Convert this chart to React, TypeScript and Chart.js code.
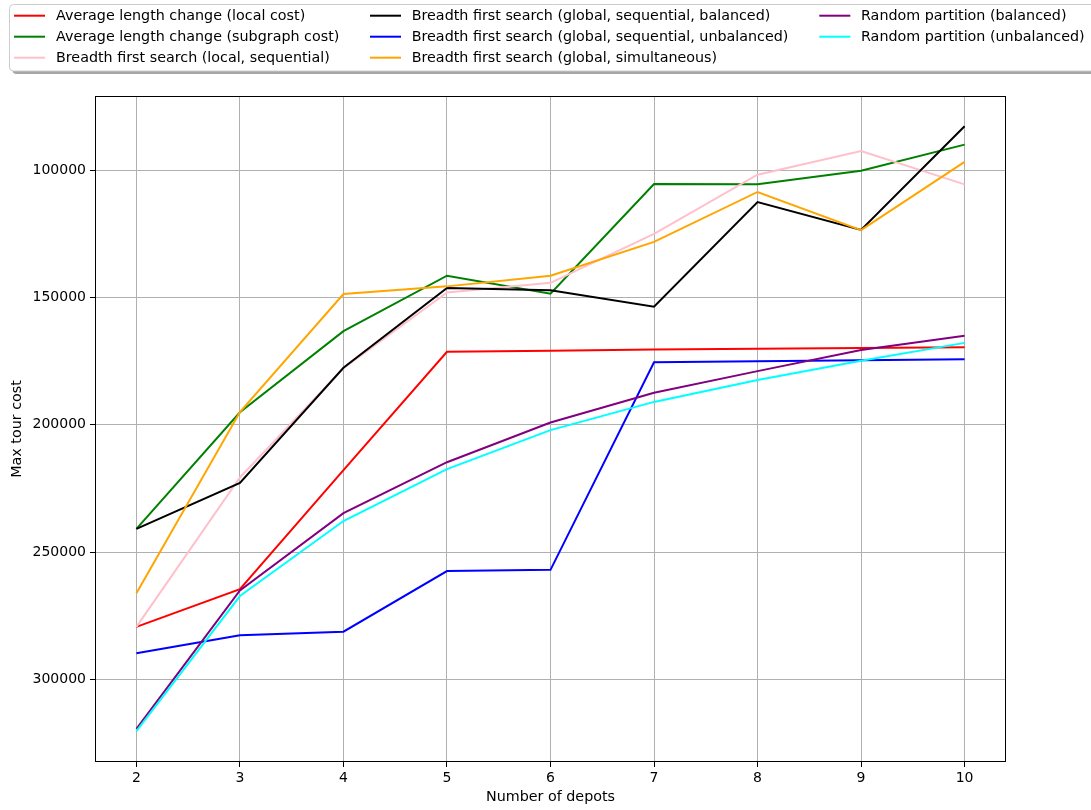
import React, { useEffect, useRef } from "react";
import { Chart, registerables } from "chart.js";

Chart.register(...registerables);

const depots = [2, 3, 4, 5, 6, 7, 8, 9, 10];

const seriesNames = [
  "Average length change (local cost)",
  "Average length change (subgraph cost)",
  "Breadth first search (local, sequential)",
  "Breadth first search (global, sequential, balanced)",
  "Breadth first search (global, sequential, unbalanced)",
  "Breadth first search (global, simultaneous)",
  "Random partition (balanced)",
  "Random partition (unbalanced)",
];

const seriesColors = ["#ff0000", "#008000", "#ffc0cb", "#000000", "#0000ff", "#ffa500", "#800080", "#00ffff"];

const avgLocal = [279400, 264600, 217800, 171300, 170900, 170400, 170100, 169800, 169500];
const avgSubgraph = [240900, 195100, 163200, 141400, 148500, 105400, 105500, 100200, 89900];
const bfsLocalSeq = [279400, 220700, 177800, 148000, 144200, 125000, 101700, 92400, 105500];
const bfsGlobalSeqBal = [240900, 222800, 177600, 146200, 147100, 153600, 112500, 123400, 82700];
const bfsGlobalSeqUnbal = [289800, 282700, 281300, 257500, 257000, 175400, 175000, 174600, 174200];
const bfsGlobalSim = [266200, 195000, 148600, 145600, 141400, 128100, 108500, 123500, 96700];
const randomBal = [319500, 265100, 234700, 214700, 199100, 187400, 178900, 170600, 165000];
const randomUnbal = [320400, 267300, 237800, 217400, 202100, 191000, 182400, 174800, 167800];

const seriesValues = [avgLocal, avgSubgraph, bfsLocalSeq, bfsGlobalSeqBal, bfsGlobalSeqUnbal, bfsGlobalSim, randomBal, randomUnbal];

const yTicks = [100000, 150000, 200000, 250000, 300000];
const xTicks = [2, 3, 4, 5, 6, 7, 8, 9, 10];

const FONT = "'DejaVu Sans', sans-serif";
const FS_TICK = 14;
const FS_TEXT = 14.3;

function roundRectPath(ctx: CanvasRenderingContext2D, x: number, y: number, w: number, h: number, r: number) {
  ctx.beginPath();
  ctx.moveTo(x + r, y);
  ctx.lineTo(x + w - r, y);
  ctx.quadraticCurveTo(x + w, y, x + w, y + r);
  ctx.lineTo(x + w, y + h - r);
  ctx.quadraticCurveTo(x + w, y + h, x + w - r, y + h);
  ctx.lineTo(x + r, y + h);
  ctx.quadraticCurveTo(x, y + h, x, y + h - r);
  ctx.lineTo(x, y + r);
  ctx.quadraticCurveTo(x, y, x + r, y);
  ctx.closePath();
}

const frameAndLegend = {
  id: "frameAndLegend",
  afterDatasetsDraw(chart: any) {
    const { ctx, chartArea } = chart;
    ctx.save();
    ctx.strokeStyle = "#000";
    ctx.lineWidth = 1;
    ctx.strokeRect(chartArea.left + 0.5, chartArea.top + 0.5, chartArea.right - chartArea.left - 1, chartArea.bottom - chartArea.top - 1);
    ctx.restore();
  },
  afterDraw(chart: any) {
    const ctx: CanvasRenderingContext2D = chart.ctx;
    ctx.save();
    const x = 9.5, y = 4.5, w = 1100, h = 66.5;
    ctx.fillStyle = "rgba(77,77,77,0.5)";
    roundRectPath(ctx, x + 3, y + 3, w, h, 4);
    ctx.fill();
    ctx.fillStyle = "#ffffff";
    roundRectPath(ctx, x, y, w, h, 4);
    ctx.fill();
    ctx.strokeStyle = "#cccccc";
    ctx.lineWidth = 1;
    ctx.stroke();
    const cols = [{ hx: 14, tx: 56 }, { hx: 370, tx: 411.7 }, { hx: 819.3, tx: 861 }];
    const rows = [16.2, 37.2, 58.2];
    ctx.font = `${FS_TEXT}px ${FONT}`;
    ctx.textBaseline = "middle";
    ctx.textAlign = "left";
    seriesNames.forEach((name, i) => {
      const c = cols[Math.floor(i / 3)];
      const ry = rows[i % 3];
      ctx.strokeStyle = seriesColors[i];
      ctx.lineWidth = 2;
      ctx.beginPath();
      ctx.moveTo(c.hx, ry - 0.5);
      ctx.lineTo(c.hx + 31, ry - 0.5);
      ctx.stroke();
      ctx.fillStyle = "#000";
      ctx.fillText(name, c.tx, ry);
    });
    ctx.restore();
  },
};

export default function App() {
  const canvasRef = useRef<HTMLCanvasElement | null>(null);

  useEffect(() => {
    const canvas = canvasRef.current;
    if (!canvas) return;
    const datasets = seriesNames.map((name, i) => ({
      label: name,
      data: depots.map((d, j) => ({ x: d, y: seriesValues[i][j] })),
      borderColor: seriesColors[i],
      backgroundColor: seriesColors[i],
      borderWidth: 2,
      pointRadius: 0,
      tension: 0,
      fill: false,
      order: seriesNames.length - i,
    }));
    const chart = new Chart(canvas, {
      type: "line",
      data: { datasets },
      plugins: [frameAndLegend],
      options: {
        responsive: false,
        animation: false,
        devicePixelRatio: 1,
        layout: { padding: { left: 0, top: 96, right: 85, bottom: 0 } },
        plugins: { legend: { display: false }, tooltip: { enabled: false } },
        scales: {
          x: {
            type: "linear",
            min: 1.6,
            max: 10.4,
            afterBuildTicks: (scale: any) => {
              scale.ticks = xTicks.map((v) => ({ value: v }));
            },
            afterFit: (scale: any) => {
              scale.height = 48;
            },
            border: { display: false },
            grid: { color: "#b0b0b0", lineWidth: 1, tickLength: 5, tickColor: "#000", tickWidth: 1 },
            ticks: {
              color: "#000",
              padding: 3,
              maxRotation: 0,
              font: { family: FONT, size: FS_TICK },
              callback: (v: any) => String(v),
            },
            title: {
              display: true,
              text: "Number of depots",
              color: "#000",
              font: { family: FONT, size: FS_TEXT },
              padding: { top: 0, bottom: 4 },
            },
          },
          y: {
            type: "linear",
            reverse: true,
            min: 70788,
            max: 332514,
            afterBuildTicks: (scale: any) => {
              scale.ticks = yTicks.map((v) => ({ value: v }));
            },
            afterFit: (scale: any) => {
              scale.width = 95;
            },
            border: { display: false },
            grid: { color: "#b0b0b0", lineWidth: 1, tickLength: 5, tickColor: "#000", tickWidth: 1 },
            ticks: {
              color: "#000",
              padding: 4,
              font: { family: FONT, size: FS_TICK },
              callback: (v: any) => String(v),
            },
            title: {
              display: true,
              text: "Max tour cost",
              color: "#000",
              font: { family: FONT, size: FS_TEXT },
              padding: { top: 9, bottom: 0 },
            },
          },
        },
      },
    } as any);
    return () => chart.destroy();
  }, []);

  return (
    <div style={{ position: "absolute", left: 0, top: 0, width: 1091, height: 810, background: "#fff" }}>
      <canvas ref={canvasRef} width={1091} height={810} style={{ display: "block" }} />
    </div>
  );
}
